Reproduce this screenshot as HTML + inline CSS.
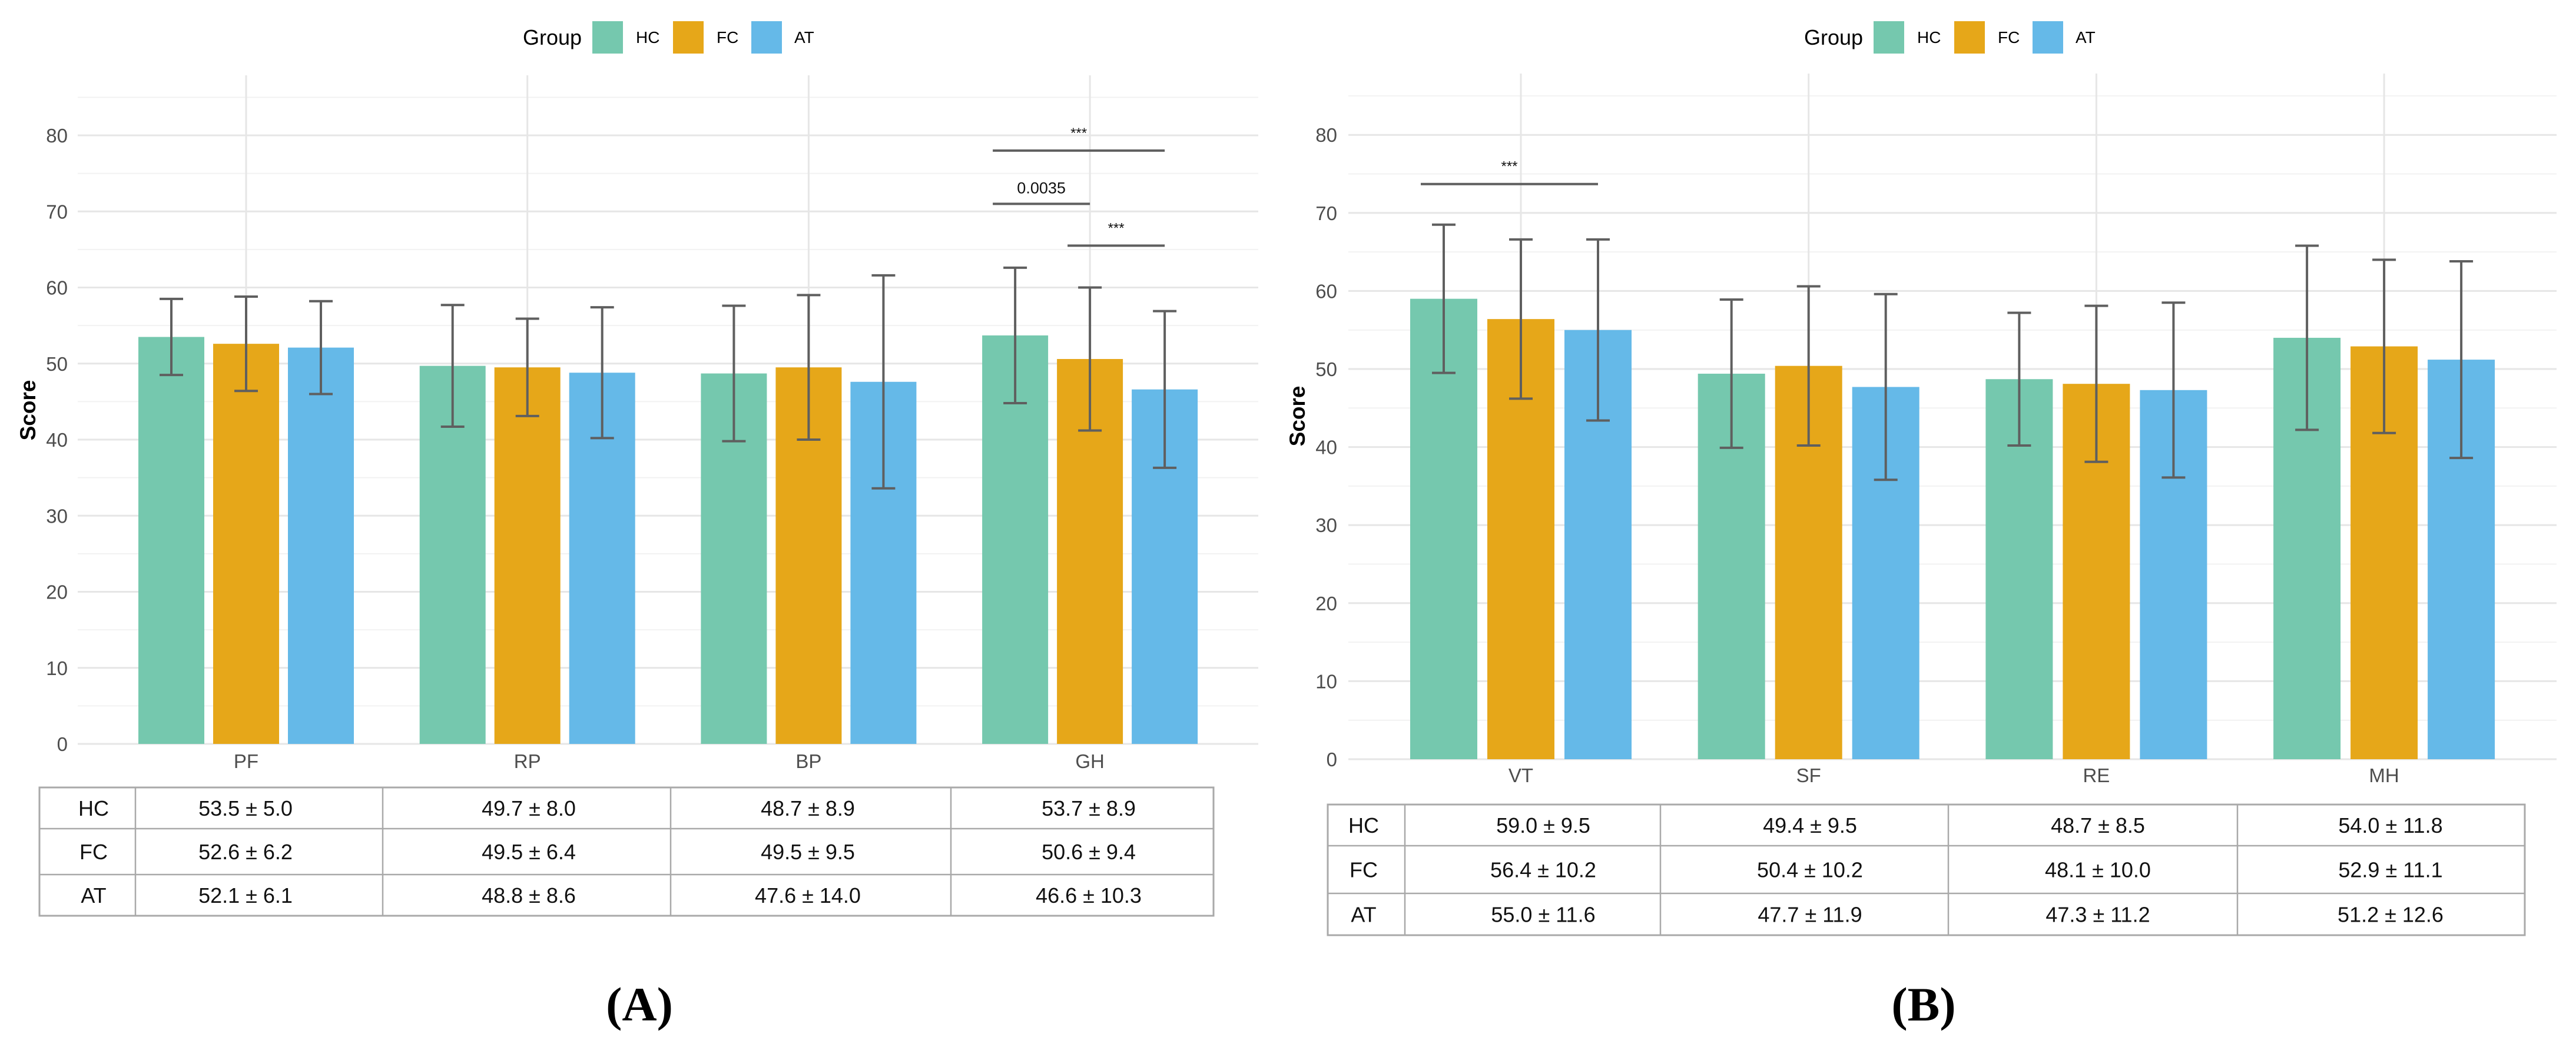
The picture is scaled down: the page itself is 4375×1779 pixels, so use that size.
<!DOCTYPE html>
<html><head><meta charset="utf-8"><style>
html,body{margin:0;padding:0;background:#fff;}
svg{display:block;font-family:"Liberation Sans",Arial,sans-serif;}
</style></head><body>
<svg id="chart" width="4375" height="1779" viewBox="0 0 4375 1779" xmlns="http://www.w3.org/2000/svg">
<rect x="0" y="0" width="4375" height="1779" fill="#fff"/>
</svg>
<script>
const groups = ["HC","FC","AT"];
const colors = ["#75C8AE","#E6A719","#65B9E8"];
const catsA = ["PF","RP","BP","GH"];
const meansA = [[53.5,49.7,48.7,53.7],[52.6,49.5,49.5,50.6],[52.1,48.8,47.6,46.6]];
const sdsA = [[5.0,8.0,8.9,8.9],[6.2,6.4,9.5,9.4],[6.1,8.6,14.0,10.3]];
const catsB = ["VT","SF","RE","MH"];
const meansB = [[59.0,49.4,48.7,54.0],[56.4,50.4,48.1,52.9],[55.0,47.7,47.3,51.2]];
const sdsB = [[9.5,9.5,8.5,11.8],[10.2,10.2,10.0,11.1],[11.6,11.9,11.2,12.6]];
const yTicks = [0,10,20,30,40,50,60,70,80];
const sigA = [{cat:3,g1:0,g2:2,y:78,label:"***"},{cat:3,g1:0,g2:1,y:71,label:"0.0035"},{cat:3,g1:1,g2:2,y:65.5,label:"***"}];
const sigB = [{cat:0,g1:0,g2:2,y:73.7,label:"***"}];

const svg = document.getElementById('chart');
const NS = "http://www.w3.org/2000/svg";
function el(tag, attrs, parent){const e=document.createElementNS(NS,tag);for(const k in attrs)e.setAttribute(k,attrs[k]);(parent||svg).appendChild(e);return e;}
function txt(s, attrs, parent){const e=el('text',attrs,parent);e.textContent=s;return e;}

function panel(cfg){
  const g = el('g',{});
  
  
  const y = v => cfg.y0 - v*cfg.per10/10;
  const xc = i => cfg.c0 + i*cfg.step;
  for(let v=5; v<=85; v+=10){
    const l=el('line',{x1:cfg.left,x2:cfg.right,y1:y(v),y2:y(v),stroke:'#f2f2f2','stroke-width':2},g);
    
    
  }
  yTicks.forEach(v=>{
    const l=el('line',{x1:cfg.left,x2:cfg.right,y1:y(v),y2:y(v),stroke:'#e6e6e6','stroke-width':3},g);
    
    
    const t=txt(String(v),{x:cfg.tickX,y:y(v)+12,'text-anchor':'end','font-size':33,fill:'#4d4d4d'},g);
    
    
  });
  cfg.cats.forEach((c,i)=>{
    const l=el('line',{x1:xc(i),x2:xc(i),y1:cfg.gridTop,y2:y(0),stroke:'#e6e6e6','stroke-width':3},g);
    
    
  });
  cfg.cats.forEach((c,i)=>{
    for(let k=0;k<3;k++){
      const cx = xc(i)+(k-1)*cfg.off;
      const m = cfg.means[k][i];
      const b=el('rect',{x:cx-cfg.bw/2,y:y(m),width:cfg.bw,height:y(0)-y(m),fill:colors[k]},g);
      
      
    }
  });
  cfg.cats.forEach((c,i)=>{
    for(let k=0;k<3;k++){
      const cx = xc(i)+(k-1)*cfg.off;
      const m = cfg.means[k][i], s = cfg.sds[k][i];
      const eg=el('g',{stroke:'#5f5f5f','stroke-width':4,fill:'none'},g);
      
      
      el('line',{x1:cx,x2:cx,y1:y(m+s),y2:y(m-s)},eg);
      el('line',{x1:cx-20,x2:cx+20,y1:y(m+s),y2:y(m+s)},eg);
      el('line',{x1:cx-20,x2:cx+20,y1:y(m-s),y2:y(m-s)},eg);
    }
    const t=txt(c,{x:xc(i),y:cfg.catY,'text-anchor':'middle','font-size':33,fill:'#4d4d4d'},g);
    
    
  });
  cfg.sig.forEach(sg=>{
    const x1 = xc(sg.cat)+(sg.g1-1)*cfg.off-cfg.bw/2+18;
    const x2 = xc(sg.cat)+(sg.g2-1)*cfg.off;
    const l=el('line',{x1:x1,x2:x2,y1:y(sg.y),y2:y(sg.y),stroke:'#5f5f5f','stroke-width':4},g);
    
    
    const isStar = sg.label==='***';
    const t=txt(sg.label,{x:(x1+x2)/2,y:y(sg.y)-(isStar?22:18),'text-anchor':'middle','font-size':isStar?24:27,fill:'#111'},g);
    
    
  });
  const yt=txt('Score',{x:0,y:0,'text-anchor':'middle','font-size':37,'font-weight':'bold',fill:'#000',transform:`translate(${cfg.titleX},${cfg.titleY}) rotate(-90)`},g);
  
  
  const lg=el('g',{},g);
  
  
  const lt=txt('Group',{x:cfg.lgX,y:76,'font-size':36,fill:'#000'},lg);
  
  
  const swX=[118,255,388], labX=[192,329,461];
  for(let k=0;k<3;k++){
    const r=el('rect',{x:cfg.lgX+swX[k],y:36,width:52,height:55,fill:colors[k]},lg);
    
    
    const t=txt(groups[k],{x:cfg.lgX+labX[k],y:73,'font-size':28,fill:'#000'},lg);
    
    
  }
  const tb=el('g',{},g);
  
  
  const T=cfg.table;
  el('rect',{x:T.x0,y:T.rows[0],width:T.x1-T.x0,height:T.rows[3]-T.rows[0],fill:'none',stroke:'#a9a9a9','stroke-width':3},tb);
  [T.rows[1],T.rows[2]].forEach(ry=>el('line',{x1:T.x0,x2:T.x1,y1:ry,y2:ry,stroke:'#a9a9a9','stroke-width':2.5},tb));
  T.cols.forEach(cx=>el('line',{x1:cx,x2:cx,y1:T.rows[0],y2:T.rows[3],stroke:'#a9a9a9','stroke-width':2.5},tb));
  for(let k=0;k<3;k++){
    const cy=(T.rows[k]+T.rows[k+1])/2+13;
    const rl=txt(groups[k],{x:T.labX,y:cy,'text-anchor':'middle','font-size':36,fill:'#111'},tb);
    
    
    cfg.cats.forEach((c,i)=>{
      const t=txt(cfg.means[k][i].toFixed(1)+' \u00b1 '+cfg.sds[k][i].toFixed(1),{x:T.textX[i],y:cy,'text-anchor':'middle','font-size':36,fill:'#111'},tb);
      
      
    });
  }
  const pl=txt(cfg.panelLabel,{x:cfg.plX,y:1734,'text-anchor':'middle','font-size':82,'font-weight':'bold','font-family':'"Liberation Serif",serif',fill:'#000'},g);
  
  
}

panel({name:'panel-a',cats:catsA,means:meansA,sds:sdsA,sig:sigA,left:132,right:2137,gridTop:128,y0:1264,per10:129.25,
  c0:418,step:477.7,off:127,bw:112,tickX:115,catY:1305,titleX:60,titleY:697,lgX:888,
  table:{x0:67,x1:2061,rows:[1338,1408,1486,1556],cols:[230,650,1139,1615],labX:159,textX:[417,898,1372,1849]},
  panelLabel:'(A)',plX:1086});
panel({name:'panel-b',cats:catsB,means:meansB,sds:sdsB,sig:sigB,left:2290,right:4342,gridTop:125,y0:1290,per10:132.6,
  c0:2583,step:488.7,off:131,bw:114,tickX:2271,catY:1329,titleX:2216,titleY:707,lgX:3064,
  table:{x0:2255,x1:4288,rows:[1367,1437,1518,1589],cols:[2386,2820,3309,3800],labX:2316,textX:[2621,3074,3563,4060]},
  panelLabel:'(B)',plX:3267});
</script>
</body></html>
